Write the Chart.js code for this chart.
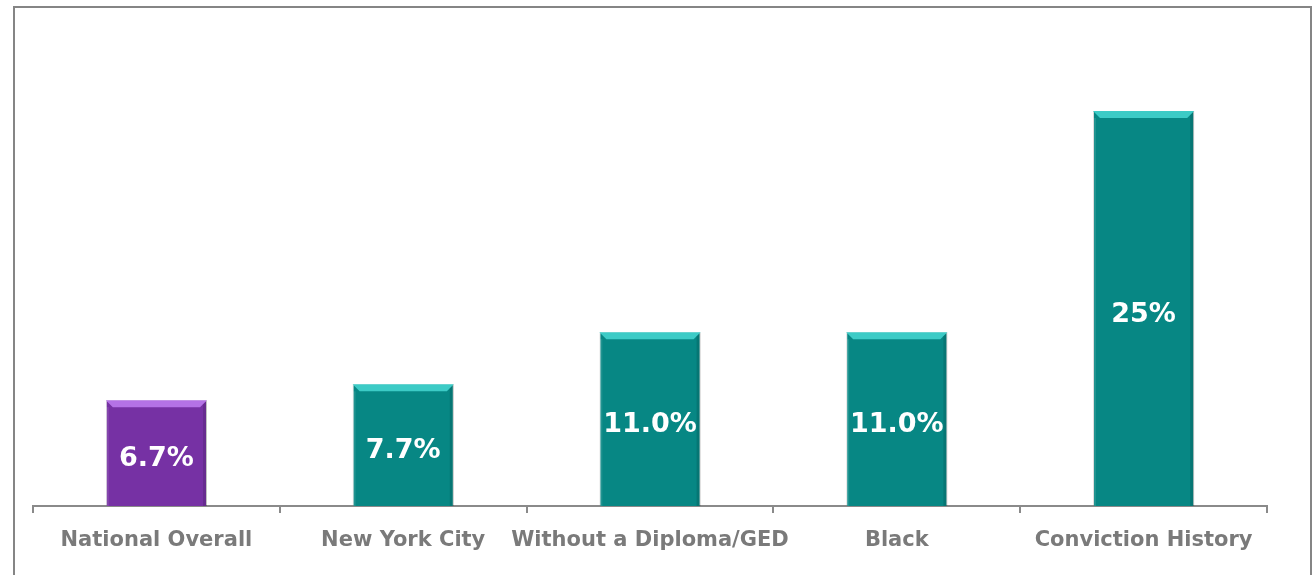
<!DOCTYPE html>
<html lang="en">
  <head>
    <meta charset="UTF-8">
    <title>Chart</title>
    <script src="https://cdn.jsdelivr.net/npm/chart.js"></script>
    <style>
      body{margin: 0; background: #fff;}
      #frame{position: absolute; left: 13px; top: 6px; width: 1295px; height: 600px; border: 2px solid #858585; border-bottom: none;}
      #wrap{position: absolute; left: 0; top: 0; width: 1314px; height: 575px;}
    </style>
  </head>
  <body>
    <div id="frame"></div>
    <div id="wrap"><canvas id="myChart"></canvas></div>
    <script>
      // categories and values
      const labelArr = ['National Overall', 'New York City', 'Without a Diploma/GED', 'Black', 'Conviction History'];
      const dataArr = [6.7, 7.7, 11.0, 11.0, 25];
      const valueText = ['6.7%', '7.7%', '11.0%', '11.0%', '25%'];
      const barColors = ['#7631a4', '#078784', '#078784', '#078784', '#078784'];
      const bevelColors = ['#b472e6', '#3ccbc6', '#3ccbc6', '#3ccbc6', '#3ccbc6'];

      // light top edge + darker right edge, like the office bevel
      const bevel = {
        id: 'bevel',
        afterDatasetsDraw(chart){
          const c = chart.ctx;
          chart.getDatasetMeta(0).data.forEach((bar, i) => {
            const l = bar.x - bar.width / 2, r = bar.x + bar.width / 2;
            const t = bar.y, b = bar.base, e = 7;
            c.save();
            c.fillStyle = bevelColors[i];
            c.beginPath();
            c.moveTo(l, t); c.lineTo(r, t); c.lineTo(r - e, t + e); c.lineTo(l + e, t + e);
            c.closePath(); c.fill();
            c.fillStyle = 'rgba(0,0,0,0.12)';
            c.beginPath();
            c.moveTo(r, t); c.lineTo(r, b); c.lineTo(r - 4, b); c.lineTo(r - 4, t + 4);
            c.closePath(); c.fill();
            c.fillStyle = 'rgba(255,255,255,0.10)';
            c.fillRect(l, t + e, 3, b - t - e);
            // values in the middle of each bar
            c.fillStyle = '#fff';
            c.font = 'bold 27px "DejaVu Sans", Verdana, sans-serif';
            c.textAlign = 'center';
            c.textBaseline = 'middle';
            c.fillText(valueText[i], bar.x, (t + b) / 2 + 6);
            c.restore();
          });
        }
      };

      new Chart(document.getElementById('myChart'), {
        type: 'bar',
        data: {
          labels: labelArr,
          datasets: [{
            data: dataArr,
            backgroundColor: barColors,
            borderColor: 'rgba(0,0,0,0.15)',
            borderWidth: 1,
            borderSkipped: 'bottom',
            categoryPercentage: 1,
            barPercentage: 0.41
          }]
        },
        options: {
          responsive: true,
          maintainAspectRatio: false,
          animation: false,
          layout: {padding: {left: 33, right: 47, top: 32, bottom: 0}},
          plugins: {legend: {display: false}, tooltip: {enabled: false}},
          scales: {
            x: {
              afterFit(s){ s.height = 69; },
              border: {display: true, color: '#8a8a8a', width: 2},
              grid: {offset: true, drawOnChartArea: false, drawTicks: true, tickLength: 7, color: '#8a8a8a', lineWidth: 2},
              ticks: {
                color: '#7a7a7a',
                padding: 15,
                maxRotation: 0,
                autoSkip: false,
                font: {family: '"DejaVu Sans", Verdana, sans-serif', size: 21, weight: 'bold'}
              }
            },
            y: {
              display: false,
              min: 0,
              max: 30
            }
          }
        },
        plugins: [bevel]
      });
    </script>
  </body>
</html>
